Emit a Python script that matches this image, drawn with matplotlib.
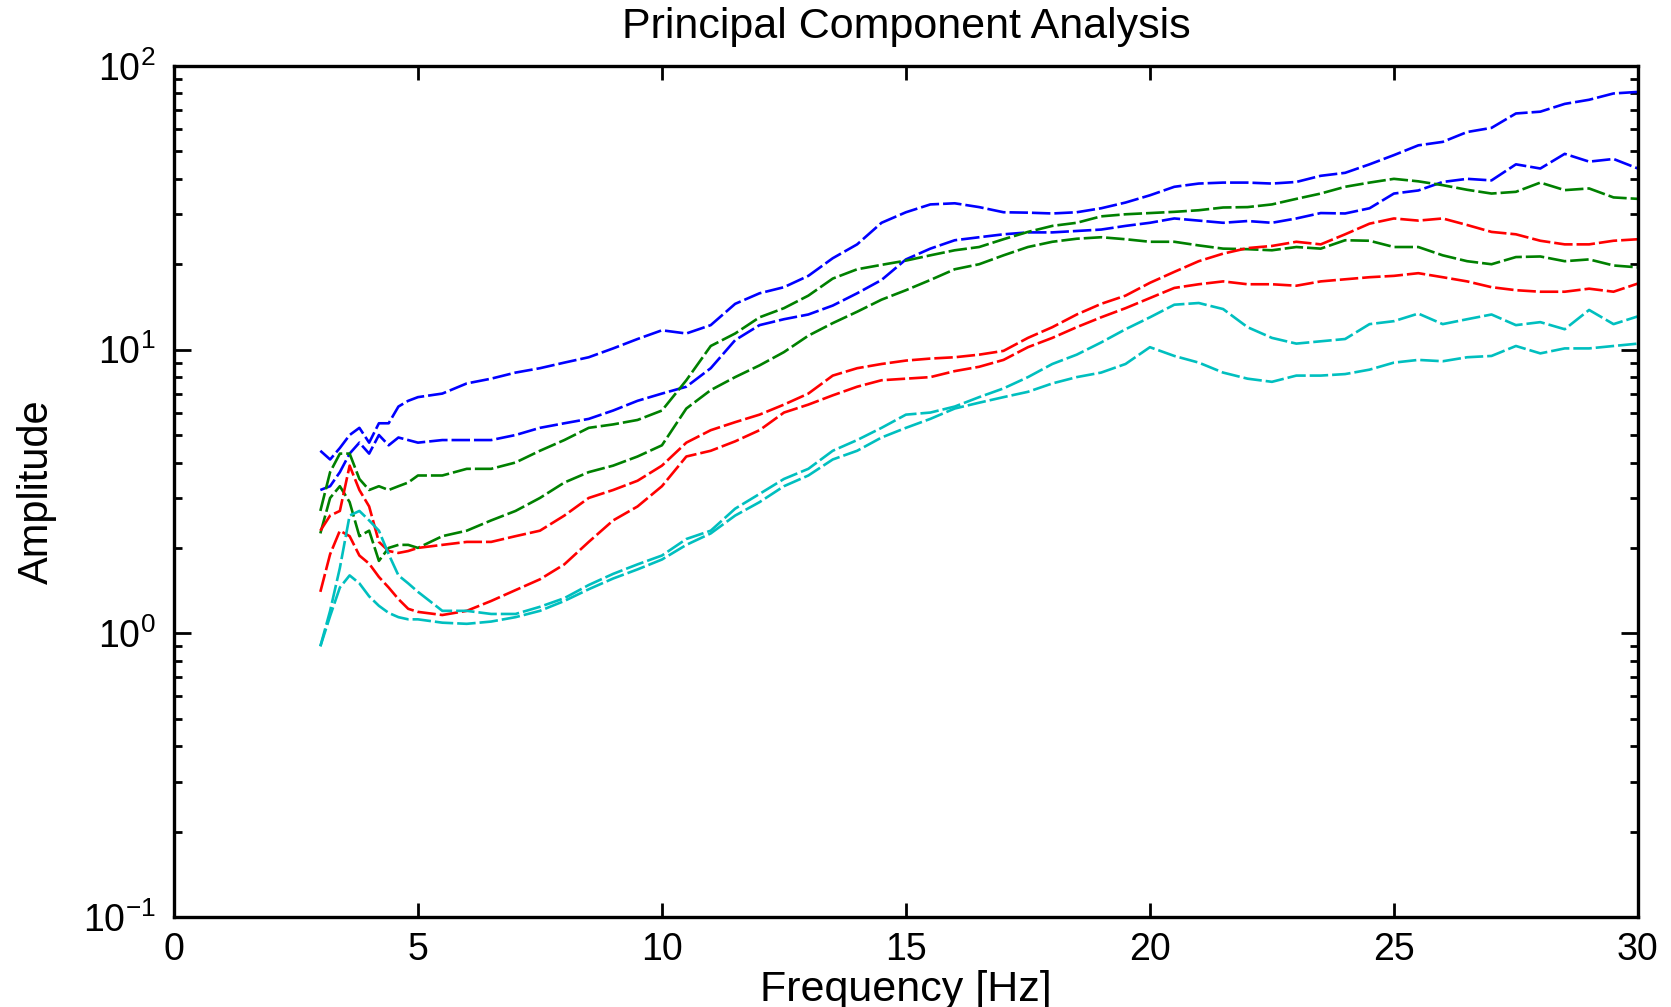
import matplotlib
matplotlib.use('Agg')
import matplotlib.pyplot as plt
from matplotlib.ticker import LogLocator, NullFormatter, MultipleLocator

plt.rcParams['font.family'] = ['Liberation Sans', 'DejaVu Sans']
plt.rcParams['mathtext.fontset'] = 'custom'
plt.rcParams['mathtext.rm'] = 'Liberation Sans'

# Frekvence [Hz]
frekvenca = [3.0, 3.2, 3.4, 3.6, 3.8, 4.0, 4.2, 4.4, 4.6, 4.8, 5.0,
             5.5, 6.0, 6.5, 7.0, 7.5, 8.0, 8.5, 9.0, 9.5, 10.0,
             10.5, 11.0, 11.5, 12.0, 12.5, 13.0, 13.5, 14.0, 14.5, 15.0,
             15.5, 16.0, 16.5, 17.0, 17.5, 18.0, 18.5, 19.0, 19.5, 20.0,
             20.5, 21.0, 21.5, 22.0, 22.5, 23.0, 23.5, 24.0, 24.5, 25.0,
             25.5, 26.0, 26.5, 27.0, 27.5, 28.0, 28.5, 29.0, 29.5, 30.0]

# Amplitude (odcitano s slike)
modra1 = [4.4, 4.1, 4.5, 5.0, 5.3, 4.7, 5.5, 5.5, 6.3, 6.6, 6.8,
          7.0, 7.6, 7.9, 8.3, 8.6, 9.0, 9.4, 10.1, 10.9, 11.7,
          11.4, 12.2, 14.5, 15.8, 16.6, 18.2, 21.0, 23.5, 28.0, 30.5,
          32.5, 32.8, 31.8, 30.5, 30.4, 30.2, 30.5, 31.5, 33.0, 35.0,
          37.5, 38.5, 38.8, 38.8, 38.5, 39.0, 41.0, 42.0, 45.0, 48.5,
          52.5, 54.0, 58.5, 60.5, 68.0, 69.0, 73.5, 76.0, 80.0, 81.0]
modra2 = [3.2, 3.3, 3.7, 4.3, 4.7, 4.3, 5.0, 4.6, 4.9, 4.8, 4.7,
          4.8, 4.8, 4.8, 5.0, 5.3, 5.5, 5.7, 6.1, 6.6, 7.0,
          7.4, 8.6, 10.8, 12.2, 12.8, 13.3, 14.3, 15.8, 17.6, 20.8,
          22.7, 24.3, 24.9, 25.5, 25.9, 25.9, 26.2, 26.5, 27.3, 28.0,
          29.0, 28.5, 28.0, 28.4, 28.0, 29.0, 30.3, 30.2, 31.5, 35.5,
          36.4, 39.0, 40.0, 39.5, 45.0, 43.5, 49.0, 46.0, 47.0, 43.5]
zelena1 = [2.7, 3.7, 4.3, 4.3, 3.5, 3.2, 3.3, 3.2, 3.3, 3.4, 3.6,
           3.6, 3.8, 3.8, 4.0, 4.4, 4.8, 5.3, 5.45, 5.65, 6.1,
           7.8, 10.3, 11.4, 13.0, 14.0, 15.5, 17.8, 19.2, 19.9, 20.6,
           21.5, 22.4, 23.0, 24.5, 26.0, 27.3, 28.0, 29.5, 30.0, 30.3,
           30.6, 31.0, 31.7, 31.8, 32.5, 34.0, 35.5, 37.5, 38.8, 40.0,
           39.2, 38.0, 36.6, 35.5, 36.0, 38.8, 36.5, 37.0, 34.4, 34.0]
zelena2 = [2.25, 3.0, 3.3, 2.9, 2.2, 2.3, 1.8, 2.0, 2.05, 2.05, 2.0,
           2.2, 2.3, 2.5, 2.7, 3.0, 3.4, 3.7, 3.9, 4.2, 4.6,
           6.2, 7.2, 8.0, 8.8, 9.8, 11.2, 12.4, 13.6, 15.0, 16.2,
           17.6, 19.2, 20.0, 21.5, 23.0, 24.0, 24.6, 24.9, 24.5, 24.0,
           24.0, 23.3, 22.7, 22.6, 22.4, 23.0, 22.7, 24.3, 24.2, 23.0,
           23.0, 21.5, 20.5, 20.0, 21.2, 21.3, 20.5, 20.8, 19.8, 19.5]
rdeca1 = [2.3, 2.6, 2.7, 3.9, 3.2, 2.8, 2.1, 1.95, 1.92, 1.95, 2.0,
          2.05, 2.1, 2.1, 2.2, 2.3, 2.6, 3.0, 3.2, 3.45, 3.9,
          4.7, 5.2, 5.55, 5.9, 6.4, 7.0, 8.1, 8.6, 8.9, 9.15,
          9.3, 9.4, 9.6, 9.9, 11.0, 12.0, 13.3, 14.5, 15.5, 17.2,
          18.8, 20.5, 21.8, 22.8, 23.2, 24.0, 23.5, 25.5, 27.8, 29.0,
          28.5, 29.0, 27.5, 26.0, 25.5, 24.2, 23.5, 23.5, 24.2, 24.5]
rdeca2 = [1.4, 1.9, 2.3, 2.2, 1.88, 1.76, 1.58, 1.45, 1.32, 1.22, 1.19,
          1.16, 1.2, 1.3, 1.42, 1.55, 1.75, 2.1, 2.5, 2.8, 3.3,
          4.2, 4.4, 4.75, 5.2, 6.0, 6.4, 6.9, 7.4, 7.8, 7.9,
          8.0, 8.4, 8.7, 9.2, 10.2, 11.0, 12.0, 13.0, 14.0, 15.2,
          16.5, 17.0, 17.4, 17.0, 17.0, 16.8, 17.4, 17.7, 18.0, 18.2,
          18.6, 18.0, 17.4, 16.6, 16.2, 16.0, 16.0, 16.4, 16.0, 17.1]
cian1 = [0.9, 1.2, 1.7, 2.6, 2.7, 2.5, 2.3, 1.9, 1.6, 1.5, 1.4,
         1.2, 1.2, 1.17, 1.17, 1.24, 1.33, 1.48, 1.62, 1.75, 1.88,
         2.15, 2.3, 2.75, 3.1, 3.5, 3.8, 4.4, 4.8, 5.3, 5.9,
         6.0, 6.3, 6.8, 7.3, 8.0, 8.9, 9.6, 10.6, 11.8, 13.0,
         14.4, 14.6, 13.9, 12.0, 11.0, 10.5, 10.7, 10.9, 12.3, 12.6,
         13.4, 12.3, 12.8, 13.3, 12.2, 12.5, 11.8, 13.8, 12.3, 13.1]
cian2 = [0.9, 1.15, 1.45, 1.6, 1.5, 1.35, 1.25, 1.18, 1.14, 1.12, 1.12,
         1.09, 1.08, 1.1, 1.14, 1.2, 1.3, 1.43, 1.56, 1.68, 1.82,
         2.05, 2.25, 2.6, 2.9, 3.3, 3.6, 4.1, 4.4, 4.9, 5.3,
         5.7, 6.2, 6.5, 6.8, 7.1, 7.6, 8.0, 8.3, 8.9, 10.2,
         9.5, 9.0, 8.3, 7.9, 7.7, 8.1, 8.1, 8.2, 8.5, 9.0,
         9.2, 9.1, 9.4, 9.5, 10.3, 9.7, 10.1, 10.1, 10.3, 10.5]

serije = [(modra1, 'b'), (modra2, 'b'), (zelena1, 'g'), (zelena2, 'g'),
          (rdeca1, 'r'), (rdeca2, 'r'), (cian1, 'c'), (cian2, 'c')]
barve = {'b': '#0000ff', 'g': '#008000', 'r': '#ff0000', 'c': '#00bfbf'}

fig = plt.figure(figsize=(16.71, 10.07), dpi=100)
ax = fig.add_axes([0.1041, 0.0894, 0.8761, 0.8451])

for vrednosti, b in serije:
    ax.semilogy(frekvenca, vrednosti, color=barve[b], linewidth=1.9,
                linestyle=(0, (7, 1.5)))

ax.set_xlim(0, 30)
ax.set_ylim(0.1, 100)
ax.xaxis.set_major_locator(MultipleLocator(5))
ax.yaxis.set_minor_locator(LogLocator(base=10, subs=range(2, 10)))
ax.yaxis.set_minor_formatter(NullFormatter())

for s in ax.spines.values():
    s.set_linewidth(2.4)
ax.tick_params(which='both', direction='in', top=True, right=True,
               width=2.0, labelsize=27, pad=11)
ax.tick_params(which='major', length=10)
ax.tick_params(which='minor', length=6)
ax.tick_params(axis='y', which='major', length=12, pad=13)

ax.set_title('Principal Component Analysis', fontsize=31, pad=20)
ax.set_xlabel('Frequency [Hz]', fontsize=31)
ax.set_ylabel('Amplitude', fontsize=30)
ax.xaxis.set_label_coords(0.5, -0.062)
ax.yaxis.set_label_coords(-0.08, 0.5)

fig.savefig('out.png', dpi=100)
